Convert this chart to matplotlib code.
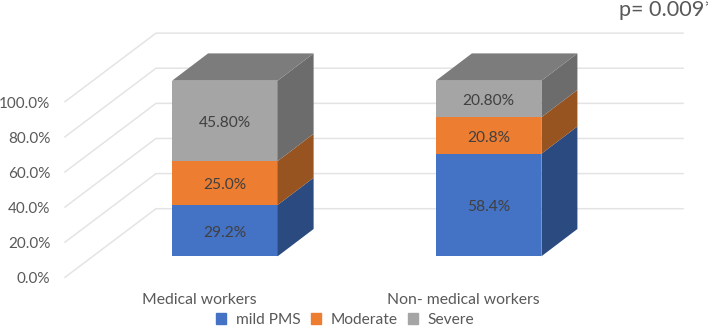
import matplotlib
matplotlib.use("Agg")
import matplotlib.pyplot as plt
from matplotlib.patches import Patch

categories = ["Medical workers", "Non- medical workers"]
series_names = ["mild PMS", "Moderate", "Severe"]
mild = [29.2, 58.4]
moderate = [25.0, 20.8]
severe = [45.8, 20.8]
label_mild = ["29.2%", "58.4%"]
label_moderate = ["25.0%", "20.8%"]
label_severe = ["45.80%", "20.80%"]
ticks = [0, 20, 40, 60, 80, 100]
tick_labels = ["0.0%", "20.0%", "40.0%", "60.0%", "80.0%", "100.0%"]
annotation = "p= 0.009*"

front = ["#4472C4", "#ED7D31", "#A5A5A5"]
side = ["#2A4A80", "#985420", "#6C6C6C"]
top_col = "#7C7C7C"
grid_col = "#E4E4E4"
txt = "#595959"
lab = "#404040"

plt.rcParams["font.family"] = ["Lato", "DejaVu Sans"]

W, H = 708, 327
fig = plt.figure(figsize=(W / 100, H / 100), dpi=100, facecolor="white")
ax = fig.add_axes([0, 0, 1, 1])

# data scale: category units horizontally, percent vertically
px_per_cat = 263.8
px_per_pct = 1.756
x0_px, y0_px = 224.85, 256.3
ax.set_xlim((0 - x0_px) / px_per_cat, (W - x0_px) / px_per_cat)
ax.set_ylim((y0_px - H) / px_per_pct, y0_px / px_per_pct)
ax.axis("off")

bar_w = 0.4
depth_x, depth_y = 36 / px_per_cat, 27.3 / px_per_pct
# wall geometry relative to the bar front plane
gx0, gy0 = -0.606, -11.96
gx1, gy1 = -0.261, 27.1
gx2 = 1.737

for t in ticks:
    ax.plot([gx0, gx1, gx2], [gy0 + t, gy1 + t, gy1 + t], color=grid_col, lw=1.1,
            solid_joinstyle="miter", zorder=1)
    ax.text(-0.662, gy0 + t - 1.2, tick_labels[ticks.index(t)], ha="right", va="center",
            fontsize=11, color=txt)

for i, cat in enumerate(categories):
    bottom = 0.0
    right = i + bar_w / 2
    left = i - bar_w / 2
    for j, (vals, labels) in enumerate(zip([mild, moderate, severe],
                                           [label_mild, label_moderate, label_severe])):
        v = vals[i]
        ax.bar(i, v, bar_w, bottom=bottom, color=front[j], zorder=3, lw=0)
        ax.fill([right, right + depth_x, right + depth_x, right],
                [bottom, bottom + depth_y, bottom + v + depth_y, bottom + v],
                color=side[j], lw=0, zorder=3)
        ax.text(i, bottom + v / 2 - 1.3, labels[i], ha="center", va="center",
                fontsize=11.2, color=lab, zorder=4)
        bottom += v
    ax.fill([left, right, right + depth_x, left + depth_x],
            [bottom, bottom, bottom + depth_y, bottom + depth_y],
            color=top_col, lw=0, zorder=3)
    ax.text(i - 0.097, -24.8, cat, ha="center", va="center", fontsize=11.3, color=txt)

ax.text(1.493, 140.0, annotation, ha="left", va="center", fontsize=15.6, color=txt)

handles = [Patch(color=c) for c in front]
fig.legend(handles, series_names, ncol=3, loc="center", bbox_to_anchor=(345 / W, 1 - 320 / H),
           frameon=False, fontsize=11.2, labelcolor=txt, handlelength=0.67, handleheight=0.67,
           handletextpad=0.6, columnspacing=0.65, borderpad=0, borderaxespad=0)

fig.savefig("out.png", dpi=100)
